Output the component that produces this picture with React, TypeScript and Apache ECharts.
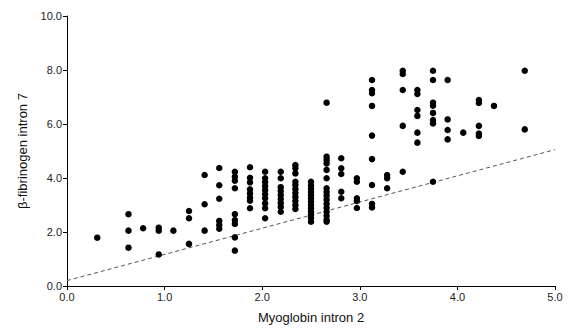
import React, { useEffect, useRef } from "react";
import * as echarts from "echarts";

// Myoglobin intron 2 (x) columns and the β-fibrinogen intron 7 (y) values in each column
const xCols: number[] = [0.31, 0.63, 0.78, 0.94, 1.09, 1.25, 1.41, 1.56, 1.72, 1.875, 2.03, 2.19, 2.34, 2.5, 2.66, 2.81, 2.97, 3.125, 3.28, 3.44, 3.59, 3.75, 3.9, 4.06, 4.22, 4.375, 4.69];
const yCols: number[][] = [
  [1.79],
  [2.66, 2.05, 1.42],
  [2.14],
  [2.16, 2.05, 1.17],
  [2.05],
  [2.78, 2.51, 1.56],
  [4.11, 3.03, 2.05],
  [4.37, 3.73, 3.23, 2.41, 2.26, 2.12],
  [4.23, 4.05, 3.9, 3.62, 2.66, 2.44, 2.3, 1.8, 1.31],
  [4.4, 4.01, 3.84, 3.58, 3.43, 3.28, 3.16, 2.88],
  [4.23, 3.99, 3.85, 3.7, 3.55, 3.4, 3.25, 3.06, 2.88, 2.51],
  [4.23, 3.99, 3.66, 3.52, 3.37, 3.22, 3.07, 2.93, 2.75],
  [4.48, 4.36, 4.17, 3.86, 3.74, 3.59, 3.44, 3.3, 3.15, 3.0, 2.85],
  [3.86, 3.72, 3.6, 3.48, 3.36, 3.24, 3.12, 3.0, 2.88, 2.76, 2.64, 2.52, 2.38],
  [6.79, 4.79, 4.67, 4.54, 4.3, 3.99, 3.62, 3.48, 3.35, 3.2, 3.05, 2.9, 2.75, 2.6, 2.45, 2.38],
  [4.73, 4.36, 4.15, 3.49, 3.25],
  [3.99, 3.86, 3.25, 3.15, 2.89],
  [7.63, 7.26, 7.14, 6.67, 5.57, 4.7, 3.74, 3.04, 2.91],
  [4.11, 3.99, 3.62],
  [7.97, 7.85, 7.26, 5.93, 4.23],
  [7.26, 7.11, 6.52, 6.3, 5.68, 5.31],
  [7.97, 7.63, 6.79, 6.68, 6.41, 6.15, 6.02, 3.86],
  [7.63, 6.17, 5.78, 5.43],
  [5.68],
  [6.89, 6.78, 5.93, 5.65, 5.56],
  [6.67],
  [7.97, 5.8],
];

// dashed reference line end points
const lineX: number[] = [0, 5];
const lineY: number[] = [0.2, 5.05];

const App: React.FC = () => {
  const ref = useRef<HTMLDivElement>(null);

  useEffect(() => {
    if (!ref.current) return;
    const chart = echarts.init(ref.current, undefined, { renderer: "svg" });
    const points: number[][] = [];
    xCols.forEach((x, i) => {
      yCols[i].forEach((y) => points.push([x, y]));
    });
    const font = "'Liberation Sans', Arial, sans-serif";
    chart.setOption({
      animation: false,
      backgroundColor: "#ffffff",
      grid: { left: 67, right: 17, top: 16, bottom: 43, containLabel: false },
      xAxis: {
        type: "value",
        min: 0,
        max: 5,
        interval: 1,
        name: "Myoglobin intron 2",
        nameLocation: "middle",
        nameGap: 25,
        nameTextStyle: { fontFamily: font, fontSize: 13, color: "#111" },
        axisLine: { show: true, lineStyle: { color: "#000", width: 1 } },
        axisTick: { show: true, inside: false, length: 4, lineStyle: { color: "#000" } },
        axisLabel: {
          fontFamily: font,
          fontSize: 11,
          color: "#222",
          margin: 5,
          formatter: (v: number) => v.toFixed(1),
        },
        splitLine: { show: false },
      },
      yAxis: {
        type: "value",
        min: 0,
        max: 10,
        interval: 2,
        name: "β-fibrinogen intron 7",
        nameLocation: "middle",
        nameGap: 38,
        nameTextStyle: { fontFamily: font, fontSize: 13, color: "#111" },
        axisLine: { show: true, lineStyle: { color: "#000", width: 1 } },
        axisTick: { show: true, inside: false, length: 4, lineStyle: { color: "#000" } },
        axisLabel: {
          fontFamily: font,
          fontSize: 11,
          color: "#222",
          margin: 5,
          formatter: (v: number) => v.toFixed(1),
        },
        splitLine: { show: false },
      },
      series: [
        {
          type: "line",
          data: lineX.map((x, i) => [x, lineY[i]]),
          symbol: "none",
          lineStyle: { color: "#555", width: 1, type: [4, 3] },
          silent: true,
          z: 1,
        },
        {
          type: "scatter",
          data: points,
          symbol: "circle",
          symbolSize: 6.5,
          itemStyle: { color: "#000", opacity: 1 },
          z: 2,
        },
      ],
    });
    return () => chart.dispose();
  }, []);

  return (
    <div
      ref={ref}
      style={{ position: "absolute", left: 0, top: 0, width: 572, height: 329 }}
    />
  );
};

export default App;
